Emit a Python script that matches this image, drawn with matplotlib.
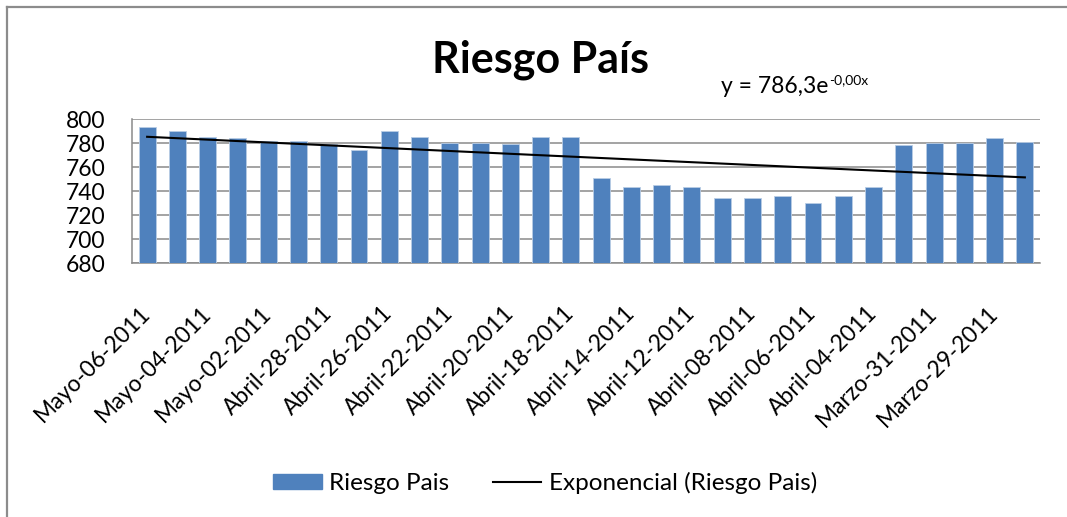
import numpy as np
import matplotlib
matplotlib.use("Agg")
import matplotlib.pyplot as plt
from matplotlib.patches import Patch
from matplotlib.lines import Line2D

plt.rcParams['font.family'] = ['Lato', 'DejaVu Sans']

categories = ["Mayo-06-2011", "Mayo-05-2011", "Mayo-04-2011", "Mayo-03-2011", "Mayo-02-2011",
              "Abril-29-2011", "Abril-28-2011", "Abril-27-2011", "Abril-26-2011", "Abril-25-2011",
              "Abril-22-2011", "Abril-21-2011", "Abril-20-2011", "Abril-19-2011", "Abril-18-2011",
              "Abril-15-2011", "Abril-14-2011", "Abril-13-2011", "Abril-12-2011", "Abril-11-2011",
              "Abril-08-2011", "Abril-07-2011", "Abril-06-2011", "Abril-05-2011", "Abril-04-2011",
              "Abril-01-2011", "Marzo-31-2011", "Marzo-30-2011", "Marzo-29-2011", "Marzo-28-2011"]
riesgo = [793, 790, 785, 784, 782, 782, 779, 774, 790, 785,
          780, 780, 779, 785, 785, 751, 743, 745, 743, 734,
          734, 736, 730, 736, 743, 778, 780, 780, 784, 781]
yticks = [680, 700, 720, 740, 760, 780, 800]
title = "Riesgo País"
eq_main = "y = 786,3e"
eq_sup = "-0,00x"

W, H = 1067, 517
fig = plt.figure(figsize=(W / 100, H / 100), dpi=100)

L, R, T, B = 132, 1040, 119, 263
ax = fig.add_axes([L / W, 1 - B / H, (R - L) / W, (B - T) / H])

x = np.arange(len(riesgo))
ax.bar(x, riesgo, width=0.56, color="#4F81BD", edgecolor="#B9CDE5", linewidth=0.6, zorder=3)

# exponential trendline (Excel style, x = 1..n)
xn = x + 1
b, lna = np.polyfit(xn, np.log(riesgo), 1)
trend = np.exp(lna) * np.exp(b * xn)
ax.plot(x, trend, color="black", linewidth=1.5, zorder=4)

ax.set_xlim(-0.5, len(riesgo) - 0.5)
ax.set_ylim(680, 800)
ax.set_yticks(yticks)
ax.yaxis.grid(True, color="#8a8a8a", linewidth=1.1, zorder=0)
ax.set_axisbelow(True)
for s in ["top", "right"]:
    ax.spines[s].set_visible(False)
for s in ["left", "bottom"]:
    ax.spines[s].set_color("#8a8a8a")
    ax.spines[s].set_linewidth(1.1)

ax.set_xticks(x[::2])
ax.set_xticklabels(categories[::2], rotation=45, ha="right", va="center",
                   rotation_mode="anchor", fontsize=16.5)
ax.tick_params(axis="x", length=0, pad=34)
ax.tick_params(axis="y", length=0, pad=19, labelsize=16.5)

fig.text(541 / W, 1 - 60 / H, title, ha="center", va="center",
         fontsize=31, fontweight="bold")

t_main = fig.text(721 / W, 1 - 93 / H, eq_main, ha="left", va="baseline", fontsize=16.5)
fig.canvas.draw()
bb = t_main.get_window_extent()
fig.text((bb.x1 + 0.5) / W, 1 - 84 / H, eq_sup, ha="left", va="baseline", fontsize=10)

handles = [Patch(facecolor="#4F81BD", edgecolor="#4F81BD", label="Riesgo Pais"),
           Line2D([0], [0], color="black", linewidth=1.5, label="Exponencial (Riesgo Pais)")]
fig.legend(handles=handles, loc="center", bbox_to_anchor=(545 / W, 1 - 483 / H),
           ncol=2, frameon=False, fontsize=17.5, handlelength=2.0, handleheight=0.6,
           handletextpad=0.3, columnspacing=1.8)

# chart area border (partially clipped)
fig.add_artist(Line2D([7 / W, 7 / W], [0, 1 - 7 / H], color="#8c8c8c", linewidth=1.6,
                      transform=fig.transFigure))
fig.add_artist(Line2D([7 / W, 1], [1 - 7 / H, 1 - 7 / H], color="#8c8c8c", linewidth=1.6,
                      transform=fig.transFigure))

fig.savefig("out.png", dpi=100)
